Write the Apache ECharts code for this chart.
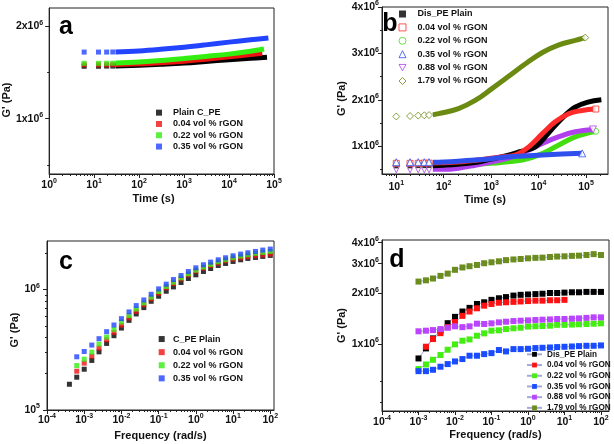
<!DOCTYPE html>
<html><head><meta charset="utf-8">
<script src="https://cdn.jsdelivr.net/npm/echarts@6/dist/echarts.min.js"></script>
<style>html,body{margin:0;padding:0;background:#fff}#c{width:614px;height:444px}</style>
</head><body><div id="c"></div>
<script>
// ---------------- DATA ----------------
// Panel a : G' vs time (G' in units of 10^6 Pa)
const aNames = ['Plain C_PE', '0.04 vol % rGON', '0.22 vol % rGON', '0.35 vol % rGON'];
const aTimeEarly = [6, 12.5, 19, 26];
const aPlainEarly = [1.568, 1.568, 1.570, 1.570];
const a004Early = [1.585, 1.585, 1.585, 1.586];
const a022Early = [1.600, 1.600, 1.601, 1.602];
const a035Early = [1.722, 1.722, 1.722, 1.723];
const aTimePlain = [30, 100, 300, 1000, 3000, 10000, 30000, 70000];
const aPlain = [1.572, 1.580, 1.590, 1.603, 1.620, 1.640, 1.655, 1.667];
const aTime004 = [30, 100, 300, 1000, 3000, 10000, 30000, 55000];
const a004 = [1.587, 1.595, 1.605, 1.622, 1.645, 1.672, 1.695, 1.710];
const aTime022 = [30, 100, 300, 1000, 3000, 10000, 30000, 60000];
const a022 = [1.603, 1.615, 1.630, 1.652, 1.675, 1.700, 1.730, 1.755];
const aTime035 = [30, 100, 300, 1000, 3000, 10000, 30000, 75000];
const a035 = [1.724, 1.735, 1.752, 1.775, 1.800, 1.830, 1.855, 1.875];
const aXTicks = [1, 10, 100, 1000, 10000, 100000];
const aYTicks = [1, 2];
const aYMinor = [0.5, 1.5];

// Panel b : G' vs time (10^6 Pa)
const bNames = ['Dis_PE Plain', '0.04 vol % rGON', '0.22 vol % rGON', '0.35 vol % rGON', '0.88 vol % rGON', '1.79 vol % rGON'];
const bTimeEarly = [10, 19.5, 29, 39, 49];
const bPlainEarly = [0.565, 0.565, 0.570, 0.570, 0.575];
const b004Early = [0.630, 0.630, 0.630, 0.635, 0.635];
const b022Early = [0.590, 0.590, 0.590, 0.590, 0.590];
const b035Early = [0.655, 0.655, 0.655, 0.655, 0.655];
const b088Early = [0.500, 0.500, 0.500, 0.500, 0.500];
const b179Early = [1.640, 1.650, 1.660, 1.665, 1.670];
const bTimePlain = [59, 100, 200, 500, 1000, 2000, 4000, 8500, 16000, 31000, 59000, 110000, 210000];
const bPlain = [0.58, 0.59, 0.61, 0.65, 0.72, 0.79, 0.88, 0.985, 1.28, 1.60, 1.84, 1.95, 2.00];
const bTime004 = [59, 100, 200, 500, 1000, 1700, 3200, 6200, 12000, 22000, 43000, 82000, 160000];
const b004 = [0.635, 0.645, 0.66, 0.70, 0.74, 0.77, 0.81, 0.985, 1.27, 1.52, 1.70, 1.77, 1.80];
const bTime022 = [59, 100, 200, 500, 1000, 2000, 4500, 12000, 26000, 59000, 160000];
const b022 = [0.59, 0.595, 0.60, 0.61, 0.63, 0.66, 0.70, 0.84, 1.02, 1.20, 1.32];
const bTime035 = [59, 100, 200, 460, 1000, 2300, 5000, 12000, 31000, 83000];
const b035 = [0.655, 0.66, 0.675, 0.70, 0.73, 0.77, 0.79, 0.81, 0.83, 0.845];
const bTime088 = [59, 100, 220, 460, 1000, 2300, 5200, 12000, 26000, 59000, 140000];
const b088 = [0.50, 0.50, 0.53, 0.59, 0.66, 0.74, 0.88, 1.06, 1.20, 1.31, 1.36];
const bTime179 = [59, 78, 205, 460, 1020, 2300, 5200, 12000, 26000, 59000, 96000];
const b179 = [1.675, 1.70, 1.81, 1.985, 2.235, 2.50, 2.77, 3.02, 3.18, 3.28, 3.34];
const bXTicks = [10, 100, 1000, 10000, 100000];
const bYTicks = [1, 2, 3, 4];
const bYMinor = [0.5, 1.5, 2.5, 3.5];

// Panel c : G' vs frequency (Pa)
const cNames = ['C_PE Plain', '0.04 vol % rGON', '0.22 vol % rGON', '0.35 vol % rGON'];
const cFreq = [0.0004, 0.00063, 0.001, 0.0016, 0.0025, 0.004, 0.0063, 0.01, 0.016, 0.025, 0.04, 0.063,
  0.1, 0.16, 0.25, 0.4, 0.63, 1, 1.6, 2.5, 4, 6.3, 10, 16, 25, 40, 63, 100];
const cPlain = [1.636e5, 1.872e5, 2.18e5, 2.58e5, 3.04e5, 3.57e5, 4.14e5, 4.79e5, 5.55e5, 6.27e5, 7.08e5, 7.99e5,
  8.8e5, 9.68e5, 1.052e6, 1.144e6, 1.235e6, 1.325e6, 1.413e6, 1.496e6, 1.585e6, 1.647e6, 1.711e6, 1.767e6,
  1.813e6, 1.848e6, 1.884e6, 1.92e6];
const c004 = [2.10e5, 2.45e5, 2.80e5, 3.27e5, 3.83e5, 4.41e5, 5.05e5, 5.81e5, 6.6e5, 7.5e5, 8.36e5, 9.32e5,
  1.033e6, 1.122e6, 1.227e6, 1.325e6, 1.422e6, 1.506e6, 1.585e6, 1.658e6, 1.733e6, 1.789e6, 1.835e6,
  1.875e6, 1.91e6, 1.94e6, 1.97e6];
const c022 = [2.34e5, 2.64e5, 3.02e5, 3.53e5, 4.03e5, 4.67e5, 5.38e5, 6.07e5, 6.9e5, 7.74e5, 8.63e5, 9.62e5,
  1.059e6, 1.151e6, 1.251e6, 1.351e6, 1.449e6, 1.535e6, 1.616e6, 1.701e6, 1.767e6, 1.836e6, 1.896e6,
  1.945e6, 1.995e6, 2.034e6, 2.073e6];
const c035 = [2.765e5, 3.06e5, 3.46e5, 3.91e5, 4.47e5, 5.08e5, 5.73e5, 6.52e5, 7.36e5, 8.2e5, 9.14e5, 1.013e6,
  1.108e6, 1.211e6, 1.308e6, 1.413e6, 1.516e6, 1.606e6, 1.69e6, 1.767e6, 1.836e6, 1.908e6, 1.97e6,
  2.02e6, 2.073e6, 2.127e6, 2.168e6];
const cXTicks = [1e-4, 1e-3, 1e-2, 1e-1, 1, 10, 100];
const cYTicks = [1e5, 1e6];

// Panel d : G' vs frequency (Pa)
const dNames = ['Dis_PE Plain', '0.04 vol % rGON', '0.22 vol % rGON', '0.35 vol % rGON', '0.88 vol % rGON', '1.79 vol % rGON'];
const dFreq = [0.001, 0.0016, 0.0025, 0.004, 0.0063, 0.01, 0.016, 0.025, 0.04, 0.063, 0.1, 0.16, 0.25, 0.4,
  0.63, 1, 1.6, 2.5, 4, 6.3, 10, 16, 25, 40, 63, 100];
const dPlain = [8.21e5, 9.42e5, 1.08e6, 1.20e6, 1.33e6, 1.45e6, 1.56e6, 1.64e6, 1.73e6, 1.77e6, 1.83e6, 1.87e6,
  1.90e6, 1.94e6, 1.96e6, 1.97e6, 1.98e6, 1.99e6, 2.01e6, 2.01e6, 2.02e6, 2.03e6, 2.03e6, 2.04e6, 2.04e6, 2.04e6];
const d004 = [9.64e5, 1.07e6, 1.16e6, 1.26e6, 1.35e6, 1.47e6, 1.56e6, 1.63e6, 1.69e6, 1.73e6, 1.76e6, 1.77e6,
  1.78e6, 1.79e6, 1.80e6, 1.81e6, 1.81e6, 1.82e6, 1.82e6, 1.83e6];
const d022 = [7.10e5, 7.56e5, 8.06e5, 8.6e5, 9.25e5, 9.95e5, 1.046e6, 1.065e6, 1.12e6, 1.157e6, 1.20e6, 1.206e6,
  1.227e6, 1.24e6, 1.25e6, 1.27e6, 1.275e6, 1.28e6, 1.285e6, 1.30e6, 1.30e6, 1.305e6, 1.31e6, 1.315e6, 1.32e6, 1.327e6];
const d035 = [6.9e5, 6.9e5, 7.03e5, 7.33e5, 7.6e5, 7.88e5, 8.14e5, 8.52e5, 8.52e5, 8.71e5, 8.83e5, 9.21e5,
  9.04e5, 9.33e5, 9.33e5, 9.37e5, 9.46e5, 9.5e5, 9.54e5, 9.59e5, 9.63e5, 9.67e5, 9.72e5, 9.76e5, 9.76e5, 9.81e5];
const d088 = [1.19e6, 1.20e6, 1.21e6, 1.227e6, 1.25e6, 1.274e6, 1.26e6, 1.274e6, 1.321e6, 1.315e6, 1.327e6, 1.345e6,
  1.357e6, 1.369e6, 1.376e6, 1.382e6, 1.389e6, 1.395e6, 1.40e6, 1.408e6, 1.408e6, 1.415e6, 1.42e6, 1.43e6, 1.44e6, 1.44e6];
const d179 = [2.35e6, 2.39e6, 2.45e6, 2.54e6, 2.62e6, 2.76e6, 2.85e6, 2.90e6, 2.95e6, 3.02e6, 3.06e6, 3.10e6,
  3.15e6, 3.18e6, 3.20e6, 3.23e6, 3.25e6, 3.26e6, 3.29e6, 3.31e6, 3.32e6, 3.34e6, 3.35e6, 3.38e6, 3.42e6, 3.38e6];
const dXTicks = [1e-4, 1e-3, 1e-2, 1e-1, 1, 10, 100];
const dYTicks = [1e6, 2e6, 3e6, 4e6];
const dYMinor = [4.5e5, 6e5];

// ---------------- HELPERS ----------------
const FONT = "'Liberation Sans', Arial, Helvetica, sans-serif";
const INV_TRI = 'path://M0,0L10,0L5,9Z';
const zip = (xs, ys) => ys.map((y, i) => [xs[i], y]);
function logMinors(lo, hi) { // minor tick positions 2..9 x 10^k inside [lo, hi]
  const out = [];
  for (let e = Math.floor(Math.log10(lo)) - 1; e <= Math.ceil(Math.log10(hi)); e++) {
    for (let m = 2; m <= 9; m++) { const v = m * Math.pow(10, e); if (v > lo * 1.0001 && v < hi * 0.9999) out.push(v); }
  }
  return out;
}
const logFmt = v => '10{sup|' + Math.round(Math.log10(v)) + '}';
const mulFmt = v => Math.round(v) + 'x10{sup|6}';
const mulFmtPa = v => Math.round(v / 1e6) + 'x10{sup|6}';
const labelStyle = (fmt, margin, vals) => ({
  show: true, formatter: fmt, customValues: vals, margin: margin,
  fontSize: 10.5, fontWeight: 'bold', color: '#111', fontFamily: FONT, lineHeight: 14,
  rich: { sup: { fontSize: 7, fontWeight: 'bold', fontFamily: FONT, color: '#111', verticalAlign: 'top', lineHeight: 6 } }
});
const nameStyle = pad => ({ fontSize: 11, fontWeight: 'bold', color: '#111', fontFamily: FONT, padding: pad });
function mainAxis(o) {
  const ax = {
    type: o.type, gridIndex: o.grid, min: o.min, max: o.max, position: o.pos,
    name: o.name, nameLocation: 'middle', nameGap: o.nameGap, nameTextStyle: nameStyle(o.namePad || [0, 0, 0, 0]),
    axisLine: { show: true, onZero: false, lineStyle: { color: '#222', width: 1 } },
    axisTick: { show: true, length: 4, customValues: o.ticks, lineStyle: { color: '#222', width: 1 } },
    axisLabel: labelStyle(o.fmt, o.margin, o.ticks),
    splitLine: { show: false }, minorTick: { show: false }, z: 5
  };
  if (o.type === 'log') ax.logBase = 10;
  return ax;
}
function minorAxis(o) {
  const ax = {
    type: o.type, gridIndex: o.grid, min: o.min, max: o.max, position: o.pos,
    axisLine: { show: false }, axisLabel: { show: false }, splitLine: { show: false },
    axisTick: { show: true, length: 2, customValues: o.ticks, lineStyle: { color: '#222', width: 1 } }
  };
  if (o.type === 'log') ax.logBase = 10;
  return ax;
}

// axis ranges
const R = {
  ax: [1, 1e5], ay: [0.4, 2.2],
  bx: [5, 2.9e5], by: [0.4, 4.0],
  cx: [1e-4, 126], cy: [1e5, 2.53e6],
  dx: [1e-4, 166], dy: [4e5, 4.15e6]
};

const xAxes = [
  mainAxis({ type: 'log', grid: 0, min: R.ax[0], max: R.ax[1], pos: 'bottom', name: 'Time (s)', nameGap: 19, namePad: [0, 16, 0, 0], ticks: aXTicks, fmt: logFmt, margin: 4 }),
  minorAxis({ type: 'log', grid: 0, min: R.ax[0], max: R.ax[1], pos: 'bottom', ticks: logMinors(R.ax[0], R.ax[1]) }),
  mainAxis({ type: 'log', grid: 1, min: R.bx[0], max: R.bx[1], pos: 'bottom', name: 'Time (s)', nameGap: 19, namePad: [0, 20, 0, 0], ticks: bXTicks, fmt: logFmt, margin: 6 }),
  minorAxis({ type: 'log', grid: 1, min: R.bx[0], max: R.bx[1], pos: 'bottom', ticks: logMinors(R.bx[0], R.bx[1]) }),
  mainAxis({ type: 'log', grid: 2, min: R.cx[0], max: R.cx[1], pos: 'bottom', name: 'Frequency (rad/s)', nameGap: 20, ticks: cXTicks, fmt: logFmt, margin: 3 }),
  minorAxis({ type: 'log', grid: 2, min: R.cx[0], max: R.cx[1], pos: 'bottom', ticks: logMinors(R.cx[0], R.cx[1]) }),
  mainAxis({ type: 'log', grid: 3, min: R.dx[0], max: R.dx[1], pos: 'bottom', name: 'Frequency (rad/s)', nameGap: 18, ticks: dXTicks, fmt: logFmt, margin: 4 }),
  minorAxis({ type: 'log', grid: 3, min: R.dx[0], max: R.dx[1], pos: 'bottom', ticks: logMinors(R.dx[0], R.dx[1]) })
];
const yAxes = [
  mainAxis({ type: 'value', grid: 0, min: R.ay[0], max: R.ay[1], pos: 'left', name: "G' (Pa)", nameGap: 34, namePad: [0, 18, 0, 0], ticks: aYTicks, fmt: mulFmt, margin: 6 }),
  minorAxis({ type: 'value', grid: 0, min: R.ay[0], max: R.ay[1], pos: 'left', ticks: aYMinor }),
  mainAxis({ type: 'value', grid: 1, min: R.by[0], max: R.by[1], pos: 'left', name: "G' (Pa)", nameGap: 35, namePad: [0, 16, 0, 0], ticks: bYTicks, fmt: mulFmt, margin: 3 }),
  minorAxis({ type: 'value', grid: 1, min: R.by[0], max: R.by[1], pos: 'left', ticks: bYMinor }),
  mainAxis({ type: 'log', grid: 2, min: R.cy[0], max: R.cy[1], pos: 'left', name: "G' (Pa)", nameGap: 27, namePad: [0, 9, 0, 0], ticks: cYTicks, fmt: logFmt, margin: 7 }),
  minorAxis({ type: 'log', grid: 2, min: R.cy[0], max: R.cy[1], pos: 'left', ticks: logMinors(R.cy[0], R.cy[1]) }),
  mainAxis({ type: 'log', grid: 3, min: R.dy[0], max: R.dy[1], pos: 'left', name: "G' (Pa)", nameGap: 30, ticks: dYTicks, fmt: mulFmtPa, margin: 3 }),
  minorAxis({ type: 'log', grid: 3, min: R.dy[0], max: R.dy[1], pos: 'left', ticks: dYMinor })
];

// ---------------- SERIES ----------------
const series = [];
// a
const aCol = ['#000000', '#ee1111', '#33ee11', '#2244ff'];
const aEarly = [aPlainEarly, a004Early, a022Early, a035Early];
const aBandT = [aTimePlain, aTime004, aTime022, aTime035];
const aBand = [aPlain, a004, a022, a035];
aNames.forEach((n, i) => {
  series.push({ name: 'a|' + n, type: 'scatter', xAxisIndex: 0, yAxisIndex: 0, symbol: 'rect', symbolSize: 5,
    itemStyle: { color: aCol[i] }, data: zip(aTimeEarly, aEarly[i]), z: 3 + i });
  series.push({ name: 'a|' + n, type: 'line', xAxisIndex: 0, yAxisIndex: 0, symbol: 'none', smooth: 0.4,
    lineStyle: { color: aCol[i], width: 5 }, itemStyle: { color: aCol[i] }, data: zip(aBandT[i], aBand[i]), z: 3 + i });
});
// b
const bCol = ['#000000', '#ff2a2a', '#44dd11', '#3050ee', '#b040ee', '#6b8a12'];
const bSym = ['rect', 'rect', 'circle', 'triangle', INV_TRI, 'diamond'];
const bSize = [4, 6, 6, 7, 7, 7];
const bEarly = [bPlainEarly, b004Early, b022Early, b035Early, b088Early, b179Early];
const bBandT = [bTimePlain, bTime004, bTime022, bTime035, bTime088, bTime179];
const bBand = [bPlain, b004, b022, b035, b088, b179];
const bOrder = [5, 2, 4, 0, 1, 3];
bOrder.forEach((i, k) => {
  const hollow = i !== 0;
  const band = zip(bBandT[i], bBand[i]);
  series.push({ name: 'b|' + bNames[i], type: 'scatter', xAxisIndex: 2, yAxisIndex: 2, symbol: bSym[i], symbolSize: bSize[i],
    itemStyle: hollow ? { color: '#fff', borderColor: bCol[i], borderWidth: 1 } : { color: bCol[i] },
    data: zip(bTimeEarly, bEarly[i]).concat(hollow ? [band[band.length - 1]] : []), z: 4 + k });
  series.push({ name: 'b|' + bNames[i], type: 'line', xAxisIndex: 2, yAxisIndex: 2, symbol: 'none', smooth: 0.4,
    lineStyle: { color: bCol[i], width: 5 }, itemStyle: { color: bCol[i] }, data: band, z: 3 + k });
});
// c
const cCol = ['#000000', '#ee1111', '#33ee11', '#2244ff'];
const cVals = [cPlain, c004, c022, c035];
cNames.forEach((n, i) => {
  const f = i === 0 ? cFreq : cFreq.slice(1);
  series.push({ name: 'c|' + n, type: 'scatter', xAxisIndex: 4, yAxisIndex: 4, symbol: 'rect', symbolSize: 5,
    itemStyle: { color: cCol[i] }, data: zip(f, cVals[i]), z: 3 + i });
});
// d
const dCol = ['#000000', '#ff1111', '#44ee11', '#1a4cff', '#bb44ff', '#6b8c1e'];
const dVals = [dPlain, d004, d022, d035, d088, d179];
dNames.forEach((n, i) => {
  const f = i === 1 ? dFreq.slice(1, 1 + d004.length) : dFreq;
  series.push({ name: 'd|' + n, type: 'line', xAxisIndex: 6, yAxisIndex: 6, symbol: 'rect', symbolSize: 6, showSymbol: true,
    lineStyle: { color: '#a4a9d6', width: 1 }, itemStyle: { color: dCol[i] }, data: zip(f, dVals[i]), z: 3 + i });
});

// ---------------- LEGENDS ----------------
const legBase = { orient: 'vertical', selectedMode: false, padding: 0, itemGap: 0, formatter: n => n.slice(2) };
const legText = (size, lh, padL) => ({ fontSize: size, fontWeight: 'bold', color: '#111', fontFamily: FONT, lineHeight: lh, padding: [0, 0, 0, padL] });
const legends = [
  Object.assign({}, legBase, { left: 156, top: 107, itemWidth: 6, itemHeight: 6, textStyle: legText(9, 11.3, 6),
    data: aNames.map((n, i) => ({ name: 'a|' + n, icon: 'rect', itemStyle: { color: aCol[i] } })) }),
  Object.assign({}, legBase, { left: 398.5, top: 7.3, itemWidth: 7, itemHeight: 7, textStyle: legText(9, 13.4, 6.5),
    data: bNames.map((n, i) => ({ name: 'b|' + n, icon: bSym[i],
      itemStyle: i === 0 ? { color: '#000' } : { color: '#fff', borderColor: bCol[i], borderWidth: 1 } })) }),
  Object.assign({}, legBase, { left: 158.7, top: 332.5, itemWidth: 6, itemHeight: 6, textStyle: legText(9, 13.1, 3.3),
    data: cNames.map((n, i) => ({ name: 'c|' + n, icon: 'rect', itemStyle: { color: cCol[i] } })) }),
  Object.assign({}, legBase, { left: 526, top: 349, itemWidth: 15, itemHeight: 6, textStyle: legText(8.2, 10.7, 0),
    data: dNames.map(n => ({ name: 'd|' + n })) })
];

const panelLetter = (t, x, y) => ({ type: 'text', x: x, y: y, z: 100,
  style: { text: t, font: 'bold 25px ' + FONT, fill: '#000', align: 'center', verticalAlign: 'middle' } });

const chart = echarts.init(document.getElementById('c'), null, { renderer: 'canvas' });
chart.setOption({
  animation: false,
  backgroundColor: '#fff',
  textStyle: { fontFamily: FONT },
  grid: [
    { left: 47, top: 8, width: 227, height: 166, show: true, borderColor: '#222', borderWidth: 1, backgroundColor: 'transparent' },
    { left: 382, top: 6, width: 226, height: 168, show: true, borderColor: '#222', borderWidth: 1, backgroundColor: 'transparent' },
    { left: 47, top: 241, width: 227, height: 169, show: true, borderColor: '#222', borderWidth: 1, backgroundColor: 'transparent' },
    { left: 382, top: 240, width: 227, height: 171, show: true, borderColor: '#222', borderWidth: 1, backgroundColor: 'transparent' }
  ],
  xAxis: xAxes,
  yAxis: yAxes,
  legend: legends,
  series: series,
  graphic: [panelLetter('a', 66, 27.5), panelLetter('b', 390, 24.5), panelLetter('c', 66, 262.5), panelLetter('d', 397, 260.5)]
});
</script>
</body></html>
